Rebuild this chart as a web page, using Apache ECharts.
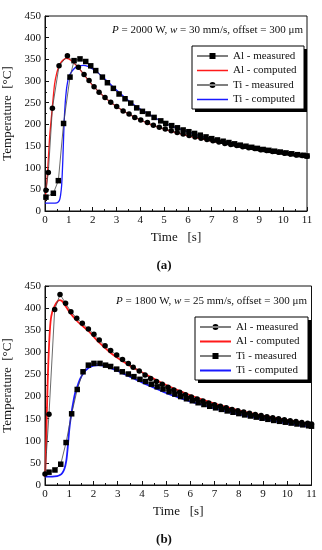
<!DOCTYPE html>
<html><head><meta charset="utf-8">
<script src="https://cdn.jsdelivr.net/npm/echarts@6/dist/echarts.min.js"></script>
<style>html,body{margin:0;padding:0;background:#fff}#c{width:322px;height:550px}</style>
</head><body><div id="c"></div><script>
// ---------- Chart (a): P = 2000 W ----------
const aAlMeasured = [[0.04,48],[0.14,89],[0.31,237],[0.59,335],[0.94,358],[1.40,332],[1.64,315],[1.85,301],[2.06,287],[2.27,274],[2.52,262],[2.76,251],[3.01,241],[3.28,231],[3.53,224],[3.77,216],[4.02,210],[4.30,204],[4.55,198],[4.80,193],[5.05,189],[5.30,185],[5.55,181],[5.80,177.5],[6.05,174],[6.30,171],[6.55,168],[6.80,165],[7.05,162],[7.30,159],[7.55,156],[7.80,153.5],[8.05,151],[8.30,148.5],[8.55,146],[8.80,144],[9.05,141.5],[9.30,139.5],[9.55,137.5],[9.80,135.5],[10.05,133.5],[10.30,131.5],[10.55,129.5],[10.80,128],[11.0,126.5]];
const aAlComputed = [[0,25],[0.05,50],[0.1,85],[0.15,130],[0.2,175],[0.3,235],[0.4,292],[0.5,320],[0.6,336],[0.7,345],[0.8,350],[0.9,352],[1.0,351],[1.2,342],[1.4,331],[1.6,317],[1.8,303],[2.0,290],[2.3,273],[2.6,258],[3.0,241],[3.5,224],[4.0,210],[4.5,198],[5,189],[5.5,181],[6,173.5],[6.5,167],[7,161],[7.5,155.5],[8,150.5],[8.5,146],[9,141.5],[9.5,137.5],[10,133.5],[10.5,129.5],[11,126]];
const aTiMeasured = [[0.04,32],[0.35,41],[0.56,70],[0.78,202],[1.05,309],[1.22,347],[1.47,351],[1.71,345],[1.92,335],[2.13,324],[2.41,309],[2.62,296],[2.87,283],[3.11,270],[3.36,259],[3.60,249],[3.85,238],[4.09,230],[4.33,224],[4.58,216],[4.86,208],[5.07,202],[5.32,197],[5.56,192],[5.80,187],[6.04,183],[6.28,179],[6.52,175],[6.76,171],[7.00,167],[7.24,164],[7.48,161],[7.72,158],[7.96,155],[8.20,152],[8.44,149.5],[8.68,147],[8.92,144.5],[9.16,142],[9.40,140],[9.64,138],[9.88,136],[10.12,134],[10.36,132],[10.60,130],[10.84,128.5],[11.0,127]];
const aTiComputed = [[0,18],[0.3,18],[0.5,19],[0.6,24],[0.65,35],[0.7,60],[0.75,120],[0.8,200],[0.85,250],[0.9,280],[0.95,298],[1.0,310],[1.1,320],[1.2,327],[1.3,332],[1.45,335],[1.6,336],[1.8,334],[2.0,328],[2.2,320],[2.4,310],[2.7,295],[3.0,279],[3.5,255],[4.0,235],[4.5,219],[5,203],[5.5,192],[6,183],[6.5,174],[7,166],[7.5,159],[8,153],[8.5,148],[9,143],[9.5,138.5],[10,134],[10.5,130],[11,126.5]];

// ---------- Chart (b): P = 1800 W ----------
const bAlMeasured = [[0.0,25],[0.165,160],[0.40,397],[0.62,431],[0.85,411],[1.07,392],[1.31,377],[1.54,366],[1.79,353],[2.02,341],[2.24,328],[2.48,315],[2.71,304],[2.96,294],[3.20,284],[3.44,275],[3.64,266],[3.89,258],[4.13,249],[4.36,241],[4.60,234],[4.84,228],[5.08,221],[5.32,215],[5.56,209.5],[5.80,204],[6.04,199],[6.28,194.5],[6.52,190],[6.76,185.5],[7.00,181.5],[7.24,178],[7.48,174.5],[7.72,171],[7.96,168],[8.20,165],[8.44,162],[8.68,159.5],[8.92,157],[9.16,154.5],[9.40,152],[9.64,150],[9.88,147.5],[10.12,145.5],[10.36,143.5],[10.60,141.5],[10.84,139.5],[11.0,138]];
const bAlComputed = [[0,18],[0.02,40],[0.05,100],[0.08,170],[0.12,250],[0.17,320],[0.23,370],[0.3,392],[0.4,405],[0.5,414],[0.6,418],[0.7,416],[0.8,409],[1.0,392],[1.3,372],[1.5,362],[1.8,348],[2.0,336],[2.24,322],[2.5,309],[2.7,299],[3.0,287],[3.5,270],[4.0,255],[4.5,240],[5,226],[5.5,214],[6,203],[6.5,193],[7,184],[7.5,176],[8,169],[8.5,162.5],[9,157],[9.5,152],[10,147],[10.5,142.5],[11,138.5]];
const bTiMeasured = [[0.165,29],[0.41,34],[0.65,47],[0.87,96],[1.10,161],[1.33,216],[1.57,256],[1.79,271],[2.02,275],[2.27,275],[2.50,271],[2.71,268],[2.96,262],[3.19,256],[3.44,251],[3.67,245],[3.92,239],[4.15,234],[4.39,228],[4.63,222],[4.87,217],[5.12,211],[5.36,205.5],[5.60,200],[5.84,195],[6.08,190.5],[6.32,186],[6.56,182],[6.80,178],[7.04,174.5],[7.28,171],[7.52,167.5],[7.76,164.5],[8.00,161.5],[8.24,158.5],[8.48,156],[8.72,153.5],[8.96,151],[9.20,148.5],[9.44,146],[9.68,144],[9.92,142],[10.16,140],[10.40,138],[10.64,136],[10.88,134],[11.0,133]];
const bTiComputed = [[0,19],[0.3,19],[0.5,20],[0.6,22],[0.7,26],[0.8,36],[0.88,55],[0.93,80],[0.97,105],[1.0,124],[1.05,147],[1.1,166],[1.17,188],[1.24,207],[1.33,222],[1.45,240],[1.6,254],[1.8,265],[2.0,270],[2.2,271],[2.4,270],[2.7,265],[3.0,258],[3.5,245],[4.0,232],[4.5,220],[5,208],[5.5,198],[6,189],[6.5,181],[7,173],[7.5,166],[8,160],[8.5,154],[9,149],[9.5,144],[10,139.5],[10.5,135],[11,131]];

const xTicks = [0,1,2,3,4,5,6,7,8,9,10,11];
const yTicks = [0,50,100,150,200,250,300,350,400,450];
const seriesNames = ['Al - measured','Al - computed','Ti - measured','Ti - computed'];
const captions = ['(a)','(b)'];

const FONT = '"Liberation Serif","DejaVu Serif",serif';
const TXT = '#111';
const SQ = 'path://M0,2.5h31v1h-31zM12.5,0h6v6h-6z';
const CI = 'path://M0,2.5h31v1h-31zM12.5,3a3,3 0 1 0 6,0a3,3 0 1 0 -6,0z';
const LN = 'path://M0,2.25h31v1.5h-31zM0,0h0.01v6h-0.01z';
const LN2 = 'path://M0,2h31v2h-31zM0,0h0.01v6h-0.01z';

function xAxisCfg(gi){
  return {gridIndex:gi,type:'value',min:xTicks[0],max:xTicks[xTicks.length-1],interval:1,
    name:'Time   [s]',nameLocation:'middle',nameGap:20,
    nameTextStyle:{fontFamily:FONT,fontSize:13,color:TXT},
    axisLine:{onZero:false,lineStyle:{color:TXT,width:1}},
    axisTick:{inside:true,length:4,lineStyle:{color:TXT}},
    minorTick:{show:true,splitNumber:2,length:2,lineStyle:{color:TXT}},
    axisLabel:{fontFamily:FONT,fontSize:11,color:TXT,margin:4},
    splitLine:{show:false},minorSplitLine:{show:false}};
}
function yAxisCfg(gi){
  return {gridIndex:gi,type:'value',min:yTicks[0],max:yTicks[yTicks.length-1],interval:50,
    name:'Temperature  [°C]',nameLocation:'middle',nameGap:23,
    nameTextStyle:{fontFamily:FONT,fontSize:13,color:TXT},
    axisLine:{show:true,onZero:false,lineStyle:{color:TXT,width:1}},
    axisTick:{inside:true,length:4,lineStyle:{color:TXT}},
    minorTick:{show:true,splitNumber:2,length:2,lineStyle:{color:TXT}},
    axisLabel:{fontFamily:FONT,fontSize:11,color:TXT,margin:4},
    splitLine:{show:false},minorSplitLine:{show:false}};
}
function meas(name,gi,data,sym){
  return {name:name,type:'line',xAxisIndex:gi,yAxisIndex:gi,data:data,symbol:sym,symbolSize:5.5,
    showAllSymbol:true,color:'#000',itemStyle:{color:'#000'},lineStyle:{color:'#444',width:0.8},z:5,animation:false};
}
function comp(name,gi,data,col,w){
  return {name:name,type:'line',xAxisIndex:gi,yAxisIndex:gi,data:data,symbol:'none',smooth:0.25,
    color:col,lineStyle:{color:col,width:w},z:3,animation:false};
}
function legendCfg(left,top,icons){
  return {orient:'vertical',left:left,top:top,padding:0,itemWidth:31,itemHeight:6,itemGap:2.5,
    selectedMode:false,itemStyle:{borderWidth:0},
    textStyle:{fontFamily:FONT,fontSize:11,color:TXT,lineHeight:12},
    data:seriesNames.map((n,i)=>({name:n,icon:icons[i]}))};
}
function box(x,y,w,h){
  return [
    {type:'rect',shape:{x:x+3,y:y+3,width:w,height:h},style:{fill:'#000'},z:3},
    {type:'rect',shape:{x:x,y:y,width:w,height:h},style:{fill:'#fff',stroke:'#000',lineWidth:1},z:3}
  ];
}
function note(x,y,txt){
  return {type:'text',x:x,y:y,z:6,style:{text:txt,align:'right',verticalAlign:'middle',
    font:'11px '+FONT,fill:TXT,
    rich:{i:{fontStyle:'italic',fontFamily:FONT,fontSize:11,fill:TXT},n:{fontFamily:FONT,fontSize:11,fill:TXT}}}};
}
function gridCfg(left,top,w,h){
  return {left:left,top:top,width:w,height:h,containLabel:false,outerBoundsMode:'none',
    show:true,borderColor:TXT,borderWidth:1,backgroundColor:'transparent'};
}

const chart = echarts.init(document.getElementById('c'));
chart.setOption({
  animation:false,
  backgroundColor:'#fff',
  grid:[gridCfg(45,16,262,195),gridCfg(45,286,266.5,199)],
  xAxis:[xAxisCfg(0),xAxisCfg(1)],
  yAxis:[yAxisCfg(0),yAxisCfg(1)],
  legend:[legendCfg(197,50,[SQ,LN,CI,LN]),legendCfg(200,321,[CI,LN2,SQ,LN2])],
  graphic:[].concat(
    box(192,46,112,63),
    box(195,317,113,63),
    [note(303,30,'{i|P} = 2000 W, {i|w} = 30 mm/s, offset = 300 μm'),
     note(307,301,'{i|P} = 1800 W, {i|w} = 25 mm/s, offset = 300 μm'),
     {type:'text',x:164,y:266,style:{text:captions[0],align:'center',verticalAlign:'middle',font:'bold 13px '+FONT,fill:TXT}},
     {type:'text',x:164,y:540,style:{text:captions[1],align:'center',verticalAlign:'middle',font:'bold 13px '+FONT,fill:TXT}}]
  ),
  series:[
    comp(seriesNames[1],0,aAlComputed,'#ff1a1a',1.3),
    comp(seriesNames[3],0,aTiComputed,'#1a1aff',1.3),
    meas(seriesNames[0],0,aAlMeasured,'circle'),
    meas(seriesNames[2],0,aTiMeasured,'rect'),
    comp(seriesNames[1],1,bAlComputed,'#ff1a1a',1.8),
    comp(seriesNames[3],1,bTiComputed,'#1a1aff',1.8),
    meas(seriesNames[0],1,bAlMeasured,'circle'),
    meas(seriesNames[2],1,bTiMeasured,'rect')
  ]
});
</script></body></html>
